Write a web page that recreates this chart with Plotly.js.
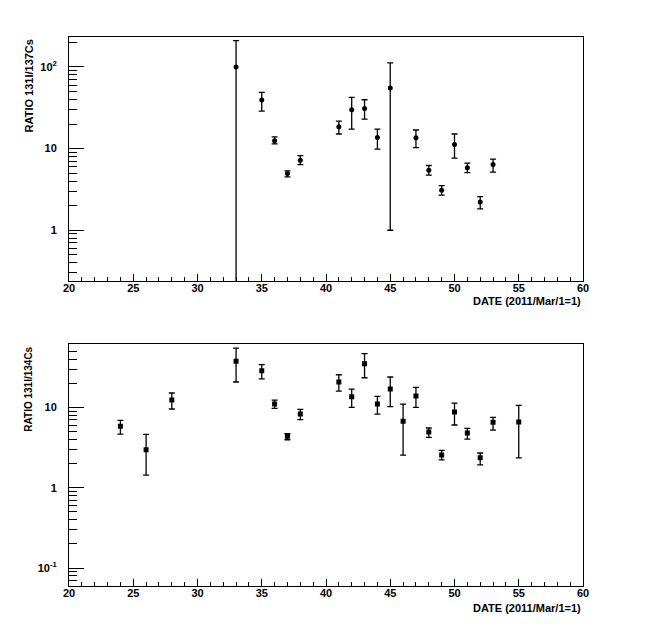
<!DOCTYPE html>
<html>
<head>
<meta charset="utf-8">
<script src="https://cdn.plot.ly/plotly-3.0.1.min.js"></script>
<style>
  html, body { margin: 0; padding: 0; background: #fff; }
  #chart { width: 654px; height: 637px; }
</style>
</head>
<body>
<div id="chart"></div>
<script>
// I-131 / Cs-137 ratio (top panel)
const csDays137 = [33, 35, 36, 37, 38, 41, 42, 43, 44, 45, 47, 48, 49, 50, 51, 52, 53];
const ratio137 = [100, 39.4, 12.5, 4.95, 7.22, 18.5, 29.9, 31.1, 13.7, 55.2, 13.6, 5.45, 3.1, 11.2, 5.81, 2.22, 6.38];
const hi137 = [210, 48.8, 13.9, 5.34, 8.22, 21.7, 42.4, 39.7, 17.3, 112, 16.9, 6.21, 3.52, 15.1, 6.64, 2.58, 7.43];
const lo137 = [0.01, 28.8, 11.4, 4.51, 6.38, 15.1, 17.3, 23.0, 9.86, 1.0, 10.3, 4.73, 2.69, 7.65, 5.09, 1.83, 5.15];

// I-131 / Cs-134 ratio (bottom panel)
const csDays134 = [24, 26, 28, 33, 35, 36, 37, 38, 41, 42, 43, 44, 45, 46, 47, 48, 49, 50, 51, 52, 53, 55];
const ratio134 = [5.82, 2.97, 12.4, 37.5, 28.6, 11.0, 4.37, 8.27, 20.7, 13.6, 35.0, 11.0, 16.9, 6.71, 13.9, 4.94, 2.55, 8.77, 4.80, 2.36, 6.52, 6.58];
const hi134 = [6.91, 4.62, 15.1, 54.5, 34.0, 12.3, 4.70, 9.47, 25.5, 16.9, 46.6, 13.7, 23.9, 11.0, 17.8, 5.54, 2.92, 11.3, 5.49, 2.71, 7.53, 10.6];
const lo134 = [4.66, 1.44, 9.55, 20.7, 22.6, 9.75, 3.96, 7.03, 15.9, 10.0, 23.4, 8.27, 10.2, 2.55, 10.0, 4.24, 2.23, 6.04, 4.04, 1.93, 5.23, 2.36];

const xTicks = [20, 25, 30, 35, 40, 45, 50, 55, 60];

const yTicks137 = [1, 10, 100];
const yLabels137 = ["1", "10", "10<sup>2</sup>"];
const yMinor137 = [0.3, 0.4, 0.5, 0.6, 0.7, 0.8, 0.9, 2, 3, 4, 5, 6, 7, 8, 9, 20, 30, 40, 50, 60, 70, 80, 90, 200];

const yTicks134 = [0.1, 1, 10];
const yLabels134 = ["10<sup>-1</sup>", "1", "10"];
const yMinor134 = [0.07, 0.08, 0.09, 0.2, 0.3, 0.4, 0.5, 0.6, 0.7, 0.8, 0.9, 2, 3, 4, 5, 6, 7, 8, 9, 20, 30, 40, 50, 60];

const font = { family: "Liberation Sans, Arial, sans-serif", color: "#000", size: 11, weight: "bold" };

function errs(v, hi, lo) {
  return {
    type: "data",
    symmetric: false,
    array: hi.map((h, i) => h - v[i]),
    arrayminus: lo.map((l, i) => v[i] - l),
    color: "#000",
    thickness: 1.3,
    width: 3,
  };
}

const xAxisBase = {
  range: [20, 60],
  tickmode: "array",
  tickvals: xTicks,
  ticks: "inside",
  ticklen: 7,
  tickcolor: "#000",
  minor: { dtick: 1, tick0: 20, ticks: "inside", ticklen: 4, tickcolor: "#000" },
  showline: true,
  mirror: true,
  linecolor: "#000",
  linewidth: 1,
  showgrid: false,
  zeroline: false,
  tickfont: font,
  ticklabelstandoff: -3,
};

function yAxis(range, vals, labels, minorVals, domain) {
  return {
    type: "log",
    range: range,
    domain: domain,
    tickmode: "array",
    tickvals: vals,
    ticktext: labels,
    ticks: "inside",
    ticklen: 15,
    tickcolor: "#000",
    minor: { tickmode: "array", tickvals: minorVals, ticks: "inside", ticklen: 8, tickcolor: "#000" },
    showline: true,
    mirror: true,
    linecolor: "#000",
    linewidth: 1,
    showgrid: false,
    zeroline: false,
    tickfont: font,
    ticklabelstandoff: 9,
  };
}

const data = [
  {
    x: csDays137,
    y: ratio137,
    error_y: errs(ratio137, hi137, lo137),
    mode: "markers",
    type: "scatter",
    marker: { symbol: "circle", size: 5, color: "#000" },
    xaxis: "x",
    yaxis: "y",
  },
  {
    x: csDays134,
    y: ratio134,
    error_y: errs(ratio134, hi134, lo134),
    mode: "markers",
    type: "scatter",
    marker: { symbol: "square", size: 5, color: "#000" },
    xaxis: "x2",
    yaxis: "y2",
  },
];

const layout = {
  width: 654,
  height: 637,
  margin: { l: 69, r: 71, t: 37, b: 51 },
  paper_bgcolor: "#fff",
  plot_bgcolor: "#fff",
  showlegend: false,
  font: font,
  xaxis: { ...xAxisBase, anchor: "y" },
  yaxis: yAxis([Math.log10(0.239), Math.log10(233)], yTicks137, yLabels137, yMinor137, [0.5556, 1]),
  xaxis2: { ...xAxisBase, anchor: "y2" },
  yaxis2: yAxis([Math.log10(0.06), Math.log10(61)], yTicks134, yLabels134, yMinor134, [0, 0.4403]),
  annotations: [
    {
      text: "RATIO 131I/137Cs", textangle: -90, showarrow: false,
      xref: "paper", yref: "paper", x: -0.078, y: 1, xanchor: "center", yanchor: "top",
      font: font,
    },
    {
      text: "RATIO 131I/134Cs", textangle: -90, showarrow: false,
      xref: "paper", yref: "paper", x: -0.078, y: 0.4403, xanchor: "center", yanchor: "top",
      font: { ...font, size: 10 },
    },
    {
      text: "DATE (2011/Mar/1=1)", showarrow: false,
      xref: "paper", yref: "paper", x: 1, y: 0.519, xanchor: "right", yanchor: "middle",
      font: font,
    },
    {
      text: "DATE (2011/Mar/1=1)", showarrow: false,
      xref: "paper", yref: "paper", x: 1, y: -0.04, xanchor: "right", yanchor: "middle",
      font: font,
    },
  ],
};

Plotly.newPlot("chart", data, layout, { displayModeBar: false, staticPlot: true });
</script>
</body>
</html>
